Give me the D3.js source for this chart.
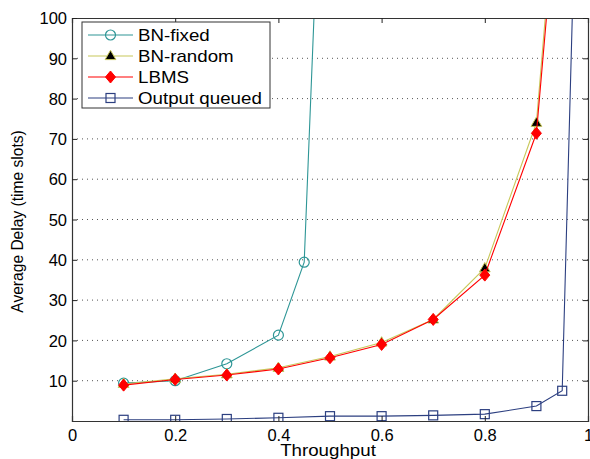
<!DOCTYPE html>
<html>
<head>
<meta charset="utf-8">
<script src="https://cdn.jsdelivr.net/npm/d3@7"></script>
<style>
  body { margin: 0; background: #fff; }
  svg { font-family: Arial, "Liberation Sans", sans-serif; }
</style>
</head>
<body>
<div id="chart"></div>
<script>
// values
var seriesNames = ['BN-fixed', 'BN-random', 'LBMS', 'Output queued']

var fixedX = [0.1, 0.2, 0.3, 0.4, 0.45, 0.5]
var fixedY = [9.4, 10, 14.2, 21.3, 39.4, 200]

var randomX = [0.1, 0.2, 0.3, 0.4, 0.5, 0.6, 0.7, 0.8, 0.9, 0.95]
var randomY = [9.2, 10.5, 11.6, 13.2, 16, 19.5, 25.2, 37.9, 74, 150]

var lbmsX = [0.1, 0.2, 0.3, 0.4, 0.5, 0.6, 0.7, 0.8, 0.9, 0.95]
var lbmsY = [8.9, 10.3, 11.4, 12.9, 15.7, 19, 25.2, 36.2, 71.4, 145]

var oqX = [0.1, 0.2, 0.3, 0.4, 0.5, 0.6, 0.7, 0.8, 0.9, 0.95, 0.98]
var oqY = [0.3, 0.3, 0.5, 0.8, 1.2, 1.2, 1.4, 1.7, 3.7, 7.5, 150]

var xTicks = [0, 0.2, 0.4, 0.6, 0.8, 1]
var yTicks = [10, 20, 30, 40, 50, 60, 70, 80, 90, 100]

// markers are drawn only on real points (the last ones are just off the top)
var markerCount = [5, 9, 9, 10]

var colors = ['#2e9696', '#c8c85a', '#ff0000', '#2c3f80']

var W = 590, H = 459
var m = {left: 72, right: 2, top: 18, bottom: 38}
var w = W - m.left - m.right, h = H - m.top - m.bottom
var fs = 16.5
var stretch = 'scale(1.17,1)' // the legend and x label text look wide

var svg = d3.select('#chart').append('svg').attr('width', W).attr('height', H)
var g = svg.append('g').attr('transform', 'translate(' + m.left + ',' + m.top + ')')

var x = d3.scaleLinear().domain([0, 1]).range([0, w])
var y = d3.scaleLinear().domain([0, 100]).range([h, 0])

// dotted horizontal grid
g.selectAll('line.grid').data(yTicks.slice(0, -1)).join('line')
  .attr('class', 'grid')
  .attr('x1', 0).attr('x2', w)
  .attr('y1', d => y(d)).attr('y2', d => y(d))
  .attr('stroke', '#555').attr('stroke-width', 1)
  .attr('stroke-dasharray', '1,4')

svg.append('clipPath').attr('id', 'clip')
  .append('rect').attr('width', w).attr('height', h)

var series = [
  {name: seriesNames[0], xs: fixedX, ys: fixedY},
  {name: seriesNames[1], xs: randomX, ys: randomY},
  {name: seriesNames[2], xs: lbmsX, ys: lbmsY},
  {name: seriesNames[3], xs: oqX, ys: oqY}
].map(function(s, i){
  s.pts = s.xs.map((v, j) => ({x: v, y: s.ys[j]}))
  s.color = colors[i]
  s.n = markerCount[i]
  return s
})

var line = d3.line().x(d => x(d.x)).y(d => y(d.y))
var plot = g.append('g').attr('clip-path', 'url(#clip)')

// draw order: Output queued, BN-fixed, BN-random, LBMS on top
var order = [3, 0, 1, 2]
order.forEach(function(i){
  var s = series[i]
  plot.append('path').attr('d', line(s.pts))
    .attr('fill', 'none').attr('stroke', s.color).attr('stroke-width', 1.1)
  drawMarkers(plot, i, s.pts.slice(0, s.n))
})

function drawMarkers(sel, i, pts){
  var gg = sel.append('g')
  pts.forEach(function(p){
    drawMarker(gg, i, x(p.x), y(p.y))
  })
}

function drawMarker(sel, i, cx, cy){
  if (i == 0) {
    sel.append('circle').attr('cx', cx).attr('cy', cy).attr('r', 5)
      .attr('fill', 'none').attr('stroke', colors[0]).attr('stroke-width', 1.2)
  } else if (i == 1) {
    sel.append('path').attr('d', d3.symbol(d3.symbolTriangle, 50)())
      .attr('transform', 'translate(' + cx + ',' + (cy + 0.5) + ')')
      .attr('fill', '#000').attr('stroke', colors[1]).attr('stroke-width', 1)
  } else if (i == 2) {
    sel.append('path').attr('d', 'M0,-6L5,0L0,6L-5,0Z')
      .attr('transform', 'translate(' + cx + ',' + cy + ')')
      .attr('fill', colors[2]).attr('stroke', colors[2])
  } else {
    sel.append('rect').attr('x', cx - 4.5).attr('y', cy - 4.5)
      .attr('width', 9).attr('height', 9)
      .attr('fill', 'none').attr('stroke', colors[3]).attr('stroke-width', 1.2)
  }
}

// axes box with ticks on all four sides
var xAxis = g.append('g').attr('transform', 'translate(0,' + h + ')')
  .call(d3.axisBottom(x).tickValues(xTicks).tickSize(-5).tickPadding(8).tickFormat(d3.format('')))
var xAxisTop = g.append('g')
  .call(d3.axisTop(x).tickValues(xTicks).tickSize(-5).tickFormat(''))
var yAxis = g.append('g')
  .call(d3.axisLeft(y).tickValues(yTicks).tickSize(-5).tickPadding(5))
var yAxisRight = g.append('g').attr('transform', 'translate(' + w + ',0)')
  .call(d3.axisRight(y).tickValues(yTicks).tickSize(-5).tickFormat(''))

;[xAxis, xAxisTop, yAxis, yAxisRight].forEach(function(a){
  a.attr('font-size', fs).attr('font-family', 'Arial, "Liberation Sans", sans-serif')
  a.select('.domain').attr('stroke', '#333').attr('stroke-width', 1.2)
  a.selectAll('.tick line').attr('stroke', '#222')
  a.selectAll('text').attr('fill', '#000')
})
yAxis.selectAll('.tick text').attr('dy', '0.35em')
xAxis.selectAll('.tick text').attr('dy', '0.71em')

svg.append('g').attr('transform', 'translate(' + (m.left + w / 2 - 2) + ',456)')
  .append('text').attr('transform', stretch)
  .attr('text-anchor', 'middle').attr('font-size', 16).text('Throughput')

svg.append('text')
  .attr('transform', 'translate(23,' + (m.top + h / 2 + 2) + ') rotate(-90) scale(1,1.1)')
  .attr('text-anchor', 'middle').attr('font-size', 15.6)
  .text('Average Delay (time slots)')

// legend
var lg = svg.append('g').attr('transform', 'translate(82,22)')
lg.append('rect').attr('width', 188).attr('height', 86)
  .attr('fill', '#fff').attr('stroke', '#333').attr('stroke-width', 1)
seriesNames.forEach(function(name, i){
  var ly = 13 + i * 21
  lg.append('line').attr('x1', 6).attr('x2', 51).attr('y1', ly).attr('y2', ly)
    .attr('stroke', colors[i]).attr('stroke-width', 1.1)
  drawMarker(lg, i, 28.5, ly)
  lg.append('g').attr('transform', 'translate(56,' + ly + ')')
    .append('text').attr('transform', stretch).attr('dy', '0.35em')
    .attr('font-size', 16).text(name)
})
</script>
</body>
</html>
